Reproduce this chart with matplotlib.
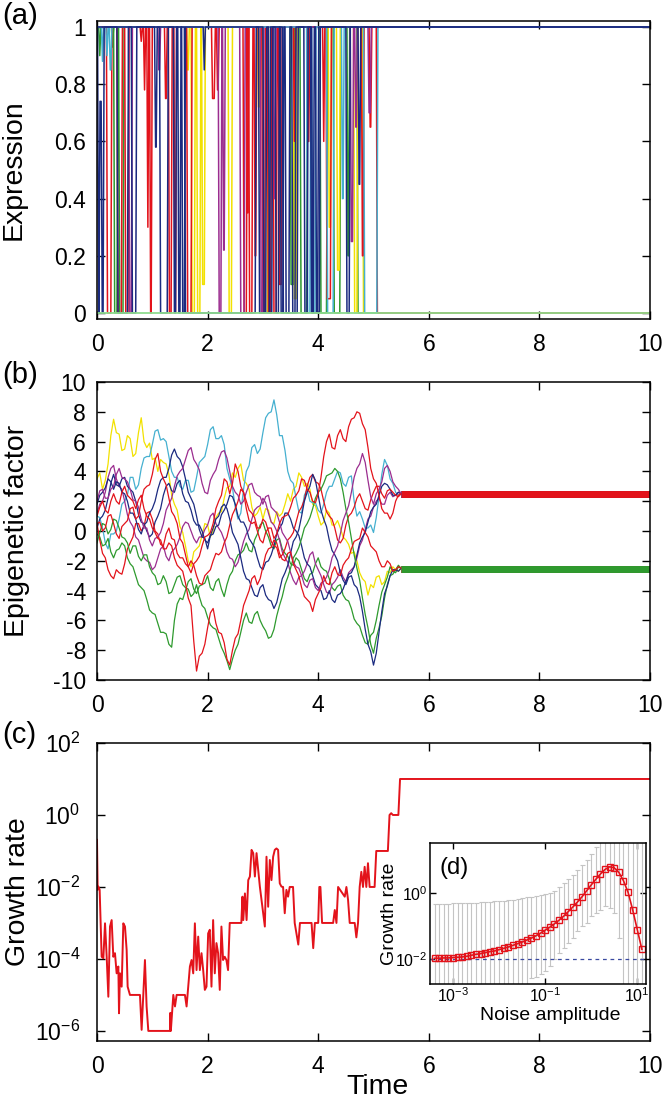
import numpy as np
import matplotlib
matplotlib.use("Agg")
import matplotlib.pyplot as plt
from matplotlib.ticker import FixedLocator, FuncFormatter, NullLocator

plt.rcParams['font.family'] = ['Liberation Sans', 'DejaVu Sans']
plt.rcParams['mathtext.fontset'] = 'custom'
plt.rcParams['mathtext.rm'] = 'Liberation Sans'
plt.rcParams['mathtext.it'] = 'Liberation Sans:italic'

RED = '#e3131b'
GREEN = '#2e9a2e'
NAVY = '#1b2a80'
PURPLE = '#9b2d8f'
CYAN = '#45b0d0'
YELLOW = '#f2e100'
LGREEN = '#8fdc8f'

# ---------------- (a) expression: switch events (time, new level) ----------------
a_navy1 = [(0.01, 0), (0.035, 0.74), (0.075, 0.0), (0.11, 1), (0.62, 0), (0.70, 1),
           (1.04, 0.58), (1.07, 1), (1.13, 0), (1.27, 1), (1.38, 0), (1.42, 1), (1.46, 0),
           (1.50, 1), (1.53, 0), (1.58, 1), (1.92, 0.85), (1.94, 1), (3.0, 0), (3.05, 1),
           (3.10, 0), (3.16, 1), (3.22, 0), (3.28, 1), (3.31, 0), (3.36, 1), (3.40, 0),
           (3.47, 1), (3.52, 0), (3.58, 1), (3.74, 0), (3.80, 1), (3.86, 0), (3.91, 1),
           (3.95, 0), (3.99, 1), (4.50, 0), (4.56, 1), (4.72, 0.45), (4.75, 1)]
a_navy2 = [(0.36, 0), (0.55, 1), (1.58, 0), (2.86, 1), (2.92, 0), (3.12, 1), (3.35, 0),
           (3.62, 1), (3.88, 0), (4.02, 1)]
a_red1 = [(0.17, 0), (0.25, 1), (0.36, 0), (0.44, 1), (0.78, 0.95), (0.80, 1), (0.84, 0.78),
          (0.86, 1), (0.90, 0.3), (0.92, 1), (0.95, 0), (0.98, 1), (1.29, 0), (1.34, 1),
          (1.39, 0), (1.42, 1), (1.62, 0), (1.70, 1), (2.07, 0.75), (2.12, 1), (2.16, 0.78),
          (2.19, 1), (2.64, 0), (2.70, 1), (2.74, 0), (2.80, 1), (2.84, 0.2), (2.87, 1),
          (2.98, 0), (3.03, 1), (3.08, 0), (3.14, 1), (3.55, 0.6), (3.57, 1), (4.08, 0.6),
          (4.10, 1), (4.92, 0.65), (4.95, 1), (5.05, 0)]
a_red2 = [(0.50, 0), (0.56, 1), (1.22, 0.75), (1.25, 1), (2.70, 0.35), (2.73, 1), (3.18, 0),
          (3.24, 1), (3.28, 0.1), (3.33, 1), (3.80, 0.6), (3.83, 1), (4.14, 0.05), (4.22, 1),
          (4.78, 0.2), (4.81, 1)]
a_yellow = [(1.62, 0.85), (1.65, 1), (1.70, 0), (1.76, 1), (1.80, 0), (1.86, 1), (1.89, 0.1),
            (1.94, 1), (2.37, 0), (2.43, 1), (2.90, 0.72), (2.93, 1), (3.00, 0), (3.08, 1),
            (3.55, 0.05), (3.60, 1), (4.18, 0.3), (4.22, 1), (4.33, 0.15), (4.38, 1),
            (4.64, 0), (4.70, 1), (4.80, 0)]
a_purple = [(0.57, 0), (0.62, 1), (1.10, 0.85), (1.13, 1), (2.19, 0), (2.24, 1), (2.27, 0.22),
            (2.30, 1), (2.58, 0), (2.66, 1), (2.95, 0), (3.00, 1), (3.19, 0.4), (3.22, 1),
            (4.58, 0.25), (4.62, 1), (4.66, 0.65), (4.69, 1), (4.90, 0.7), (4.94, 1)]
a_green = [(0.03, 0.9), (0.05, 1), (0.26, 0.93), (0.28, 1), (0.30, 0), (0.36, 1), (0.39, 0),
           (0.47, 1), (3.49, 0.1), (3.55, 1), (3.67, 0), (3.79, 1), (4.03, 0), (4.15, 1),
           (4.27, 0), (4.39, 1), (4.52, 0.2), (4.55, 1), (4.70, 0)]
a_cyan = [(0.08, 0.88), (0.10, 1), (0.16, 0.9), (0.18, 1), (0.22, 0.85), (0.25, 1), (3.79, 0),
          (3.85, 1), (3.88, 0), (3.94, 1), (4.15, 0), (4.27, 1), (4.42, 0.4), (4.45, 1),
          (4.82, 0), (5.06, 1)]
a_lgreen = []

# ---------------- (b) epigenetic factor: values every 0.1 (main) + half-step values (mid) ----
b_time = np.round(np.linspace(0.0, 5.5, 56), 2)
b_yellow = [3.5, 2.8, 4.5, 7.5, 6.5, 5.5, 6.2, 5.2, 7.6, 5.6,
            4.8, 4.0, 4.6, 3.8, 1.8, 0.3, -1.0, -2.4, -1.2, -0.3,
            0.4, 0.0, 1.2, 2.2, 3.0, 3.6, 4.5, 3.2, 1.6, 1.2,
            0.8, 1.4, 0.5, 1.0, 1.8, 2.0, 3.0, 3.6, 3.2, 1.8,
            1.0, 0.6, 1.2, 0.4, 0.2, -0.6, -1.5, -2.0, -3.2, -4.3,
            -3.8, -3.0, -3.4, -2.8, -2.6, -2.5]
b_yellow_mid = [3.9, 3.4, 6.4, 6.6, 5.4, 6.4, 5.0, 6.6, 6.0, 5.9,
                4.9, 4.8, 4.5, 2.4, 1.4, -0.1, -2.0, -1.4, -1.0, 0.5,
                -0.4, 0.9, 1.3, 2.9, 3.9, 4.2, 3.4, 2.8, 1.0, 1.6,
                1.5, 0.6, 1.3, 1.2, 2.5, 2.8, 3.9, 3.0, 2.8, 1.7,
                0.4, 1.4, 0.4, 0.7, -0.4, -0.9, -1.4, -2.8, -3.4, -3.6,
                -3.1, -3.6, -2.7, -2.4, -2.7]
b_cyan = [1.0, 0.2, -1.2, -0.2, 0.8, 2.0, 3.6, 2.8, 4.2, 5.0,
          5.8, 6.8, 6.2, 5.0, 3.6, 3.0, 3.4, 2.6, 3.6, 4.8,
          5.8, 7.0, 6.2, 5.8, 3.5, 1.6, 1.2, 4.0, 5.6, 5.2,
          6.6, 7.9, 8.8, 6.4, 5.4, 3.4, 2.2, 1.2, 2.8, 1.9,
          1.4, 1.8, 3.0, 3.5, 3.9, 3.0, 3.7, 1.0, 0.8, 0.2,
          -0.1, 2.3, 4.8, 3.5, 2.6, 2.5]
b_cyan_mid = [0.9, -0.8, -0.2, 0.0, 1.8, 2.4, 3.6, 3.1, 4.9, 5.0,
              6.7, 6.1, 6.0, 4.0, 3.6, 2.8, 3.4, 2.7, 4.6, 5.0,
              6.8, 6.2, 6.4, 4.2, 2.9, 0.8, 2.8, 4.4, 5.8, 5.5,
              7.6, 8.0, 7.8, 6.4, 4.0, 3.2, 1.3, 2.4, 2.0, 1.9,
              1.2, 2.6, 3.0, 4.0, 3.2, 3.6, 2.0, 1.3, 0.2, 0.4,
              0.9, 3.8, 4.4, 3.2, 2.4]
b_red1 = [0.5, 0.0, 1.0, 0.5, -0.5, 0.5, 1.5, 0.8, 2.0, 3.0,
          3.8, 5.2, 3.5, 2.2, 1.0, -0.5, -1.6, -2.8, -2.0, -1.0,
          -0.3, 0.5, 2.0, 3.5, 2.5, 4.5, 3.0, 1.5, 0.5, 0.0,
          -0.8, 0.2, -0.5, 0.5, 1.0, 1.6, 2.4, 3.5, 2.8, 2.0,
          2.5, 5.0, 6.5, 5.5, 6.8, 6.0, 7.5, 8.0, 7.2, 5.6,
          3.5, 2.4, 1.2, 0.8, 2.0, 2.5]
b_red1_mid = [0.6, 0.2, 1.1, -0.2, 0.3, 0.7, 1.6, 1.0, 2.8, 3.1,
              4.8, 4.0, 3.1, 1.3, 0.5, -0.8, -2.4, -2.2, -1.7, -0.4,
              -0.1, 1.5, 2.4, 3.3, 3.2, 4.0, 2.6, 0.7, 0.6, -0.6,
              -0.1, 0.2, -0.2, 0.9, 1.1, 2.2, 2.7, 3.4, 2.6, 1.9,
              3.6, 6.0, 5.6, 6.4, 6.2, 7.0, 7.6, 7.9, 6.8, 4.2,
              3.2, 1.5, 1.2, 1.2, 2.4]
b_red2 = [1.0, 2.0, 1.2, 2.5, 1.8, 3.0, 2.2, 1.5, 2.4, 1.0,
          0.2, -0.5, -1.2, -0.8, -1.8, -2.5, -3.5, -5.0, -9.4, -8.2,
          -6.5, -5.2, -6.8, -7.5, -9.0, -7.2, -6.0, -4.5, -3.2, -3.6,
          -2.4, -1.2, -0.6, -1.5, -2.0, -1.4, -2.6, -3.8, -4.6, -5.4,
          -4.2, -3.0, -3.6, -2.4, -3.0, -2.0, -1.2, -0.6, 0.2, -0.4,
          -1.2, -2.0, -2.4, -2.2, -2.6, -2.5]
b_red2_mid = [1.6, 1.4, 2.0, 2.0, 2.6, 2.4, 2.0, 2.1, 1.5, 0.8,
              -0.1, -0.6, -1.2, -1.0, -2.3, -2.7, -4.5, -7.4, -8.4, -7.6,
              -5.5, -6.2, -6.9, -8.6, -8.0, -6.9, -5.0, -4.0, -3.0, -3.2,
              -1.6, -1.1, -0.8, -1.9, -1.5, -2.2, -3.0, -4.4, -4.8, -4.6,
              -3.8, -3.5, -2.8, -2.9, -2.3, -1.8, -0.7, -0.5, -0.1, -1.0,
              -1.4, -2.4, -2.0, -2.7, -2.4]
b_red3 = [0.5, -1.5, -2.6, -3.2, -2.8, -2.2, -0.8, 0.5, 0.0, 1.2,
          0.8, -0.2, -1.0, 0.2, -0.6, -1.8, -2.2, -2.0, -3.0, -3.6,
          -2.8, -2.0, -1.6, -0.8, 0.4, 1.5, 2.8, 2.0, 1.2, 0.2,
          0.8, 0.0, -1.0, -1.8, -1.2, -0.4, 0.6, 1.6, 3.0, 3.8,
          3.2, 2.0, 1.0, 0.2, -0.8, 0.4, 1.2, 2.2, 2.0, 1.4,
          2.6, 3.0, 2.2, 2.8, 2.4, 2.5]
b_red3_mid = [-0.6, -1.8, -3.0, -2.6, -2.9, -1.2, -0.4, 0.5, 0.3, 1.3,
              0.0, -0.9, -0.2, -0.5, -1.5, -1.8, -2.4, -2.3, -3.5, -3.0,
              -2.6, -1.5, -1.4, -0.4, 1.1, 2.0, 2.6, 1.4, 0.9, 0.2,
              0.6, -0.7, -1.1, -1.6, -0.6, -0.1, 1.3, 2.1, 3.6, 3.3,
              2.8, 1.3, 0.8, -0.6, -0.5, 1.0, 1.6, 2.5, 1.5, 2.1,
              3.0, 2.5, 2.7, 2.6, 2.3]
b_green1 = [-0.2, -1.0, -0.5, -1.8, -1.2, -1.0, -2.2, -3.0, -3.8, -4.6,
            -5.5, -6.2, -6.8, -7.6, -6.0, -4.5, -4.0, -3.2, -4.2, -3.6,
            -3.0, -4.0, -3.2, -4.4, -3.0, -2.0, -1.5, -0.8, -1.4, -0.2,
            0.6, -0.4, -1.2, -0.5, -1.5, -2.2, -1.8, -2.6, -3.4, -2.8,
            -1.8, -2.6, -3.2, -4.0, -3.6, -4.6, -5.2, -6.2, -7.0, -7.6,
            -6.8, -5.0, -3.6, -2.4, -2.8, -2.5]
b_green1_mid = [-0.4, -0.9, -1.4, -1.3, -0.8, -1.8, -2.4, -3.6, -4.0, -5.3,
                -5.6, -6.8, -6.9, -7.8, -4.9, -4.6, -3.4, -3.9, -3.7, -3.5,
                -3.8, -3.4, -3.9, -3.6, -2.7, -1.6, -1.3, -1.3, -0.6, 0.4,
                0.0, -1.0, -0.6, -1.2, -1.7, -2.3, -2.0, -3.2, -2.9, -2.2,
                -2.4, -2.7, -3.8, -3.7, -4.3, -4.7, -5.9, -6.4, -7.5, -7.0,
                -6.0, -4.1, -3.1, -2.7, -2.4]
b_green2 = [-0.8, 0.5, -0.2, 0.8, 0.2, -0.5, -1.5, -1.0, -2.0, -1.6,
            -2.8, -3.6, -3.0, -4.2, -3.6, -3.0, -3.8, -4.4, -3.6, -5.0,
            -5.8, -6.5, -7.2, -8.2, -9.3, -8.0, -6.8, -5.5, -6.2, -5.4,
            -6.4, -7.2, -6.6, -5.0, -3.6, -2.5, -1.5, -0.5, 0.5, 1.5,
            2.6, 3.2, 3.8, 4.2, 3.5, 1.5, -0.5, -2.5, -4.5, -6.5,
            -8.2, -6.5, -4.5, -3.0, -2.6, -2.5]
b_green2_mid = [-0.1, 0.4, 0.1, 0.7, -0.4, -0.8, -1.0, -1.7, -1.6, -2.4,
                -3.0, -3.5, -3.4, -4.1, -3.1, -3.6, -3.9, -4.2, -4.4, -5.2,
                -6.3, -6.6, -7.8, -8.7, -8.6, -7.6, -6.0, -6.1, -5.6, -6.0,
                -6.7, -7.1, -5.7, -4.4, -3.1, -1.8, -1.1, 0.2, 0.9, 2.2,
                2.8, 3.7, 3.9, 4.0, 2.6, 0.6, -1.6, -3.3, -5.6, -7.6,
                -7.2, -5.7, -3.6, -2.9, -2.3]
b_navy1 = [1.8, 2.6, 3.5, 2.8, 3.2, 2.5, 1.2, 0.8, -0.2, 0.6,
           1.5, 2.8, 3.6, 4.2, 5.5, 4.8, 3.5, 2.2, 1.0, -0.4,
           -1.2, 0.2, 1.0, 1.8, 0.8, -0.5, -1.8, -3.2, -3.8, -4.4,
           -3.6, -4.6, -5.2, -4.0, -2.8, -1.5, -0.4, 1.0, 2.6, 3.8,
           2.4, 0.8, -0.6, -1.6, -2.8, -3.6, -3.0, -3.8, -5.4, -7.6,
           -9.0, -6.8, -4.2, -3.0, -2.6, -2.5]
b_navy1_mid = [2.4, 2.9, 3.3, 3.3, 2.6, 2.0, 1.2, 0.1, 0.4, 1.2,
               2.0, 3.4, 3.6, 5.1, 5.0, 4.3, 2.6, 1.8, 0.1, -0.5,
               -0.3, 0.8, 1.6, 1.5, -0.1, -0.9, -2.7, -3.3, -4.3, -3.8,
               -4.3, -4.7, -4.8, -3.2, -2.3, -0.7, 0.1, 2.0, 3.0, 3.4,
               1.4, 0.3, -1.3, -2.0, -3.3, -3.1, -3.6, -4.4, -6.6, -8.1,
               -8.2, -5.4, -3.7, -2.6, -2.7]
b_navy2 = [0.2, 1.0, 2.2, 3.8, 3.0, 3.6, 2.8, 2.0, 0.6, 0.0,
           -0.2, 1.0, 2.4, 3.2, 2.6, 3.4, 2.0, 1.4, 0.4, 0.0,
           -0.8, -0.2, 0.4, 1.4, 2.4, 1.8, 0.6, 0.2, -0.8, -1.8,
           -2.6, -2.0, -1.0, 0.2, 1.2, 0.8, 0.0, -1.0, -2.2, -3.0,
           -3.8, -4.6, -4.0, -4.8, -4.2, -3.4, -2.8, -1.6, -0.4, 0.6,
           1.6, 2.4, 3.2, 2.8, 2.4, 2.5]
b_navy2_mid = [0.8, 1.4, 3.2, 3.1, 3.5, 3.0, 2.6, 1.1, 0.5, -0.4,
               0.6, 1.5, 3.0, 2.7, 3.2, 2.5, 1.9, 0.7, 0.4, -0.6,
               -0.3, 0.3, 1.1, 1.8, 2.3, 1.0, 0.6, -0.5, -1.1, -2.4,
               -2.1, -1.6, -0.2, 0.5, 1.2, 0.2, -0.3, -1.8, -2.4, -3.6,
               -4.0, -4.5, -4.6, -4.3, -3.9, -2.9, -2.4, -0.8, -0.1, 1.3,
               1.8, 3.0, 3.1, 2.4, 2.6]
b_purple1 = [2.0, 2.8, 2.2, 3.0, 4.2, 3.5, 2.8, 2.0, 0.8, 0.2,
             -1.0, -0.4, 0.5, 1.8, 3.0, 4.0, 4.8, 5.6, 4.5, 3.2,
             2.5, 3.8, 4.8, 5.4, 4.0, 2.6, 1.8, 2.6, 3.2, 2.4,
             1.8, 2.4, 1.4, 0.6, -0.4, -1.4, -2.4, -3.0, -3.8, -3.2,
             -4.0, -3.4, -2.6, -1.4, -0.2, 1.2, 2.6, 4.2, 5.2, 3.4,
             1.8, 2.8, 4.2, 4.0, 3.0, 2.5]
b_purple1_mid = [2.7, 2.2, 2.8, 3.8, 3.6, 3.3, 2.1, 1.6, 0.2, -0.6,
                 -0.5, -0.1, 1.4, 2.2, 3.7, 4.2, 5.4, 4.8, 4.1, 2.6,
                 3.4, 4.1, 5.3, 4.9, 3.0, 2.4, 2.0, 3.1, 2.6, 2.3,
                 2.3, 1.6, 1.2, -0.1, -0.7, -2.1, -2.5, -3.6, -3.3, -3.8,
                 -3.5, -3.1, -1.8, -1.0, 0.7, 1.7, 3.6, 4.5, 4.6, 2.3,
                 2.5, 3.3, 4.4, 3.3, 2.8]
b_purple2 = [1.2, 2.0, 3.6, 4.4, 3.0, 2.0, 0.6, -0.4, -1.2, -2.0,
             -2.6, -1.8, -1.0, -2.0, -1.2, -0.4, 0.6, 0.0, -0.8, -0.4,
             0.4, 1.2, 0.2, -0.6, -1.8, -2.4, -1.4, -0.2, 0.8, 1.6,
             2.2, 1.2, 0.4, -0.6, -1.8, -2.8, -3.6, -3.0, -2.2, -1.4,
             -2.6, -3.6, -4.2, -3.4, -2.6, -3.4, -2.6, -1.8, -0.6, 0.8,
             1.6, 2.2, 1.8, 2.6, 2.4, 2.5]
b_purple2_mid = [1.8, 2.6, 4.2, 3.5, 2.8, 1.1, 0.3, -0.6, -1.8, -2.1,
                 -2.4, -1.2, -1.7, -1.4, -0.9, 0.3, 0.5, -0.5, -0.4, 0.1,
                 1.0, 0.5, -0.1, -1.4, -1.9, -2.1, -0.7, 0.1, 1.4, 1.7,
                 1.9, 0.6, 0.0, -1.4, -2.1, -3.3, -3.1, -2.7, -1.6, -2.2,
                 -3.0, -4.1, -3.6, -3.1, -3.1, -2.8, -2.4, -1.0, 0.1, 1.0,
                 2.0, 1.8, 2.4, 2.3, 2.6]
b_level_hi = 2.5
b_level_lo = -2.55

# ---------------- (c) growth rate (log10) ----------------
c_time = [0.0, 0.012, 0.024, 0.048, 0.084, 0.115, 0.145, 0.175, 0.205, 0.235,
          0.265, 0.295, 0.325, 0.355, 0.386, 0.398, 0.416, 0.446, 0.476, 0.506,
          0.536, 0.554, 0.596, 0.777, 0.807, 0.867, 0.897, 0.928, 1.319, 1.325,
          1.335, 1.38, 1.41, 1.44, 1.59, 1.62, 1.65, 1.68, 1.71, 1.74,
          1.77, 1.80, 1.83, 1.86, 1.89, 1.92, 1.95, 1.98, 2.01, 2.04,
          2.07, 2.10, 2.13, 2.16, 2.19, 2.22, 2.25, 2.28, 2.31, 2.34,
          2.37, 2.40, 2.61, 2.63, 2.645, 2.675, 2.705, 2.735, 2.765, 2.795,
          2.825, 2.855, 2.885, 2.915, 2.945, 2.975, 3.005, 3.035, 3.065, 3.095,
          3.125, 3.155, 3.185, 3.215, 3.245, 3.275, 3.305, 3.335, 3.365, 3.395,
          3.425, 3.455, 3.485, 3.545, 3.575, 3.64, 3.67, 3.88, 3.91, 3.94,
          4.00, 4.02, 4.04, 4.07, 4.27, 4.30, 4.33, 4.36, 4.48, 4.51,
          4.54, 4.57, 4.66, 4.69, 4.72, 4.75, 4.78, 4.81, 4.84, 4.87,
          4.90, 4.93, 5.02, 5.05, 5.26, 5.29, 5.32, 5.35, 5.45, 5.48,
          10.0]
c_lograte = [-0.69, -2.08, -1.99, -2.08, -3.94, -3.98, -3.01, -3.94, -5.05, -3.10,
             -2.92, -3.94, -3.84, -4.40, -4.21, -5.51, -4.40, -4.77, -3.01, -3.10,
             -3.75, -4.77, -5.0, -5.0, -5.97, -4.03, -5.32, -6.0, -6.0, -5.5,
             -6.0, -5.0, -5.32, -5.0, -5.0, -5.32, -4.77, -4.21, -4.03, -4.40,
             -3.01, -4.31, -3.38, -4.31, -3.84, -4.31, -4.86, -4.77, -3.29, -3.19,
             -4.77, -2.92, -4.40, -3.56, -3.84, -4.86, -3.10, -4.03, -3.94, -4.03,
             -4.31, -3.0, -3.0, -2.27, -2.92, -2.18, -2.92, -1.81, -1.71, -0.97,
             -1.06, -1.71, -1.06, -1.53, -1.99, -2.36, -2.73, -3.10, -1.16, -2.55,
             -1.25, -1.81, -1.16, -0.97, -0.93, -0.97, -1.90, -1.99, -2.0, -2.73,
             -2.08, -2.27, -2.0, -2.0, -3.0, -3.6, -3.0, -3.0, -3.7, -3.0,
             -3.0, -2.0, -2.0, -3.0, -3.0, -2.64, -3.0, -2.0, -2.27, -2.0,
             -2.36, -3.0, -3.0, -3.4, -3.0, -2.0, -1.58, -2.0, -1.44, -2.0,
             -1.34, -2.0, -2.0, -1.0, -1.0, 0.0, 0.05, 0.0, 0.0, 1.0,
             1.0]

# ---------------- (d) inset: growth rate vs noise amplitude (log10) ----------------
d_lognoise = np.round(np.linspace(-3.4, 1.1, 46), 2)
d_logmean = [-1.97, -1.97, -1.96, -1.96, -1.95, -1.94, -1.93, -1.91, -1.88, -1.85,
             -1.83, -1.80, -1.77, -1.75, -1.71, -1.67, -1.63, -1.58, -1.53, -1.48,
             -1.42, -1.36, -1.29, -1.21, -1.12, -1.03, -0.93, -0.82, -0.70, -0.56,
             -0.42, -0.27, -0.11, 0.07, 0.25, 0.42, 0.58, 0.72, 0.80, 0.77,
             0.63, 0.38, 0.03, -0.50, -1.10, -1.70]
d_loghi = [-0.33, -0.33, -0.32, -0.32, -0.31, -0.31, -0.30, -0.30, -0.29, -0.29,
           -0.28, -0.27, -0.26, -0.25, -0.24, -0.23, -0.22, -0.20, -0.18, -0.16,
           -0.13, -0.11, -0.09, -0.06, -0.03, 0.0, 0.08, 0.18, 0.30, 0.42,
           0.55, 0.70, 0.85, 1.02, 1.20, 1.40, 2.0, 2.0, 2.0, 2.0,
           2.0, 2.0, 2.0, 2.0, 2.0, 2.0]
d_loglo = [-4, -4, -4, -4, -4, -4, -4, -4, -4, -4,
           -4, -4, -4, -4, -4, -4, -4, -4, -4, -4,
           -4, -2.58, -2.53, -2.45, -2.37, -2.22, -2.0, -1.82, -1.65, -1.5,
           -1.36, -1.16, -1.0, -0.9, -0.7, -0.6, -0.5, -0.4, -0.45, -0.6,
           -1.36, -4, -4, -4, -4, -4]
d_reference = 1e-2


def switch_path(start, events, ramp=0.02):
    t, y, cur = [0.0], [start], start
    for te, ye in events:
        t += [te, te + ramp]
        y += [cur, ye]
        cur = ye
    t.append(10.0)
    y.append(cur)
    return t, y


def with_mid(main, mid):
    t, v = [], []
    for k, val in enumerate(main):
        t.append(b_time[k])
        v.append(val)
        if k < len(mid) and k < len(main) - 1:
            t.append(b_time[k] + 0.05)
            v.append(mid[k])
    return t, v


def style(ax, ticklen=6):
    ax.tick_params(which='both', direction='in', top=True, right=True,
                   length=ticklen, width=1.0, labelsize=16.5, pad=8)
    for s in ax.spines.values():
        s.set_linewidth(1.1)


fig = plt.figure(figsize=(6.64, 11.03), dpi=100)
W, H = 664.0, 1103.0


def box(l, t, r, b):
    return [l / W, 1 - b / H, (r - l) / W, (b - t) / H]


gfmt = FuncFormatter(lambda v, p: '%g' % v)

# ---- panel (a)
ax = fig.add_axes(box(97, 21, 650, 319))
for col, ev in [(GREEN, a_green), (YELLOW, a_yellow), (RED, a_red2), (RED, a_red1),
                (PURPLE, a_purple), (CYAN, a_cyan), (NAVY, a_navy2), (NAVY, a_navy1)]:
    t, y = switch_path(1.0, ev)
    ax.plot(t, y, color=col, lw=1.1)
t, y = switch_path(0.0, a_lgreen)
ax.plot(t, y, color=LGREEN, lw=1.3)
ax.set_xlim(0, 10)
ax.set_ylim(-0.021, 1.021)
ax.xaxis.set_major_locator(FixedLocator([0, 2, 4, 6, 8, 10]))
ax.yaxis.set_major_locator(FixedLocator([0, 0.2, 0.4, 0.6, 0.8, 1]))
ax.xaxis.set_major_formatter(gfmt)
ax.yaxis.set_major_formatter(gfmt)
style(ax)
ax.tick_params(axis='x', pad=10)
ax.set_ylabel('Expression', fontsize=20.5)
ax.yaxis.set_label_coords(-0.127, 0.5)

# ---- panel (b)
ax = fig.add_axes(box(97, 382, 650, 680))
series_b = [(YELLOW, b_yellow, b_yellow_mid), (CYAN, b_cyan, b_cyan_mid),
            (GREEN, b_green1, b_green1_mid), (PURPLE, b_purple2, b_purple2_mid),
            (NAVY, b_navy2, b_navy2_mid), (RED, b_red3, b_red3_mid),
            (GREEN, b_green2, b_green2_mid), (NAVY, b_navy1, b_navy1_mid),
            (PURPLE, b_purple1, b_purple1_mid), (RED, b_red2, b_red2_mid),
            (RED, b_red1, b_red1_mid)]
for col, main, mid in series_b:
    t, v = with_mid(main, mid)
    ax.plot(t, v, color=col, lw=0.9)
for col, lev in [(CYAN, b_level_hi), (PURPLE, b_level_hi), (NAVY, b_level_hi),
                 (RED, b_level_hi), (YELLOW, b_level_lo), (NAVY, b_level_lo),
                 (RED, b_level_lo), (GREEN, b_level_lo)]:
    ax.plot([b_time[-1], 10], [lev, lev], color=col, lw=5, solid_capstyle='butt')
ax.set_xlim(0, 10)
ax.set_ylim(-10, 10)
ax.xaxis.set_major_locator(FixedLocator([0, 2, 4, 6, 8, 10]))
ax.yaxis.set_major_locator(FixedLocator(list(range(-10, 11, 2))))
ax.xaxis.set_major_formatter(gfmt)
ax.yaxis.set_major_formatter(gfmt)
style(ax)
ax.tick_params(axis='x', pad=10)
ax.set_ylabel('Epigenetic factor', fontsize=20.5)
ax.yaxis.set_label_coords(-0.121, 0.5)

# ---- panel (c)
ax = fig.add_axes(box(97, 743, 650, 1041))
ax.plot(c_time, 10.0 ** np.array(c_lograte), color=RED, lw=1.4)
ax.set_yscale('log')
ax.set_xlim(0, 10)
ax.set_ylim(10 ** -6.28, 1e2)
ax.xaxis.set_major_locator(FixedLocator([0, 2, 4, 6, 8, 10]))
ax.yaxis.set_major_locator(FixedLocator([1e-6, 1e-4, 1e-2, 1e0, 1e2]))
ax.yaxis.set_minor_locator(NullLocator())
ax.xaxis.set_major_formatter(gfmt)
ax.yaxis.set_major_formatter(FuncFormatter(
    lambda v, p: r'$\mathregular{10^{%d}}$' % round(np.log10(v))))
style(ax)
ax.tick_params(axis='x', pad=10)
ax.tick_params(axis='y', pad=12)
ax.set_ylabel('Growth rate', fontsize=20.5)
ax.yaxis.set_label_coords(-0.12, 0.5)
ax.set_xlabel('Time', fontsize=20.5)
ax.xaxis.set_label_coords(0.508, -0.112)

# ---- inset (d)
ax = fig.add_axes(box(430, 843, 646, 984))
xn = 10.0 ** d_lognoise
ym = 10.0 ** np.array(d_logmean)
lo = ym - 10.0 ** np.array(d_loglo)
hi = 10.0 ** np.array(d_loghi) - ym
ax.errorbar(xn, ym, yerr=[lo, hi], fmt='none', ecolor='#c4c4c4', elinewidth=0.8,
            capsize=1.8, capthick=0.8)
ax.axhline(d_reference, color='#3a4aa0', lw=0.9, ls=(0, (3, 3)))
ax.plot(xn, ym, color=RED, lw=1.2, marker='s', ms=5, mfc='none', mec=RED, mew=1.0)
ax.set_xscale('log')
ax.set_yscale('log')
ax.set_xlim(10 ** -3.5, 10 ** 1.19)
ax.set_ylim(10 ** -2.75, 10 ** 1.52)
ax.xaxis.set_major_locator(FixedLocator([1e-3, 1e-1, 1e1]))
ax.yaxis.set_major_locator(FixedLocator([1e-2, 1e0]))
ax.xaxis.set_minor_locator(NullLocator())
ax.yaxis.set_minor_locator(NullLocator())
lfmt = FuncFormatter(lambda v, p: r'$\mathregular{10^{%d}}$' % round(np.log10(v)))
ax.xaxis.set_major_formatter(lfmt)
ax.yaxis.set_major_formatter(lfmt)
style(ax, ticklen=4)
ax.tick_params(labelsize=11.5, pad=2)
ax.set_ylabel('Growth rate', fontsize=14)
ax.yaxis.set_label_coords(-0.15, 0.5)
ax.set_xlabel('Noise amplitude', fontsize=14)
ax.xaxis.set_label_coords(0.556, -0.16)
ax.text(0.046, 0.90, '(d)', transform=ax.transAxes, fontsize=17, va='top', ha='left')

# panel letters
for lab, ytop in [('(a)', 2), ('(b)', 361), ('(c)', 721)]:
    fig.text(2 / W, 1 - ytop / H, lab, fontsize=21, va='top', ha='left')

fig.savefig('out.png', dpi=100)
